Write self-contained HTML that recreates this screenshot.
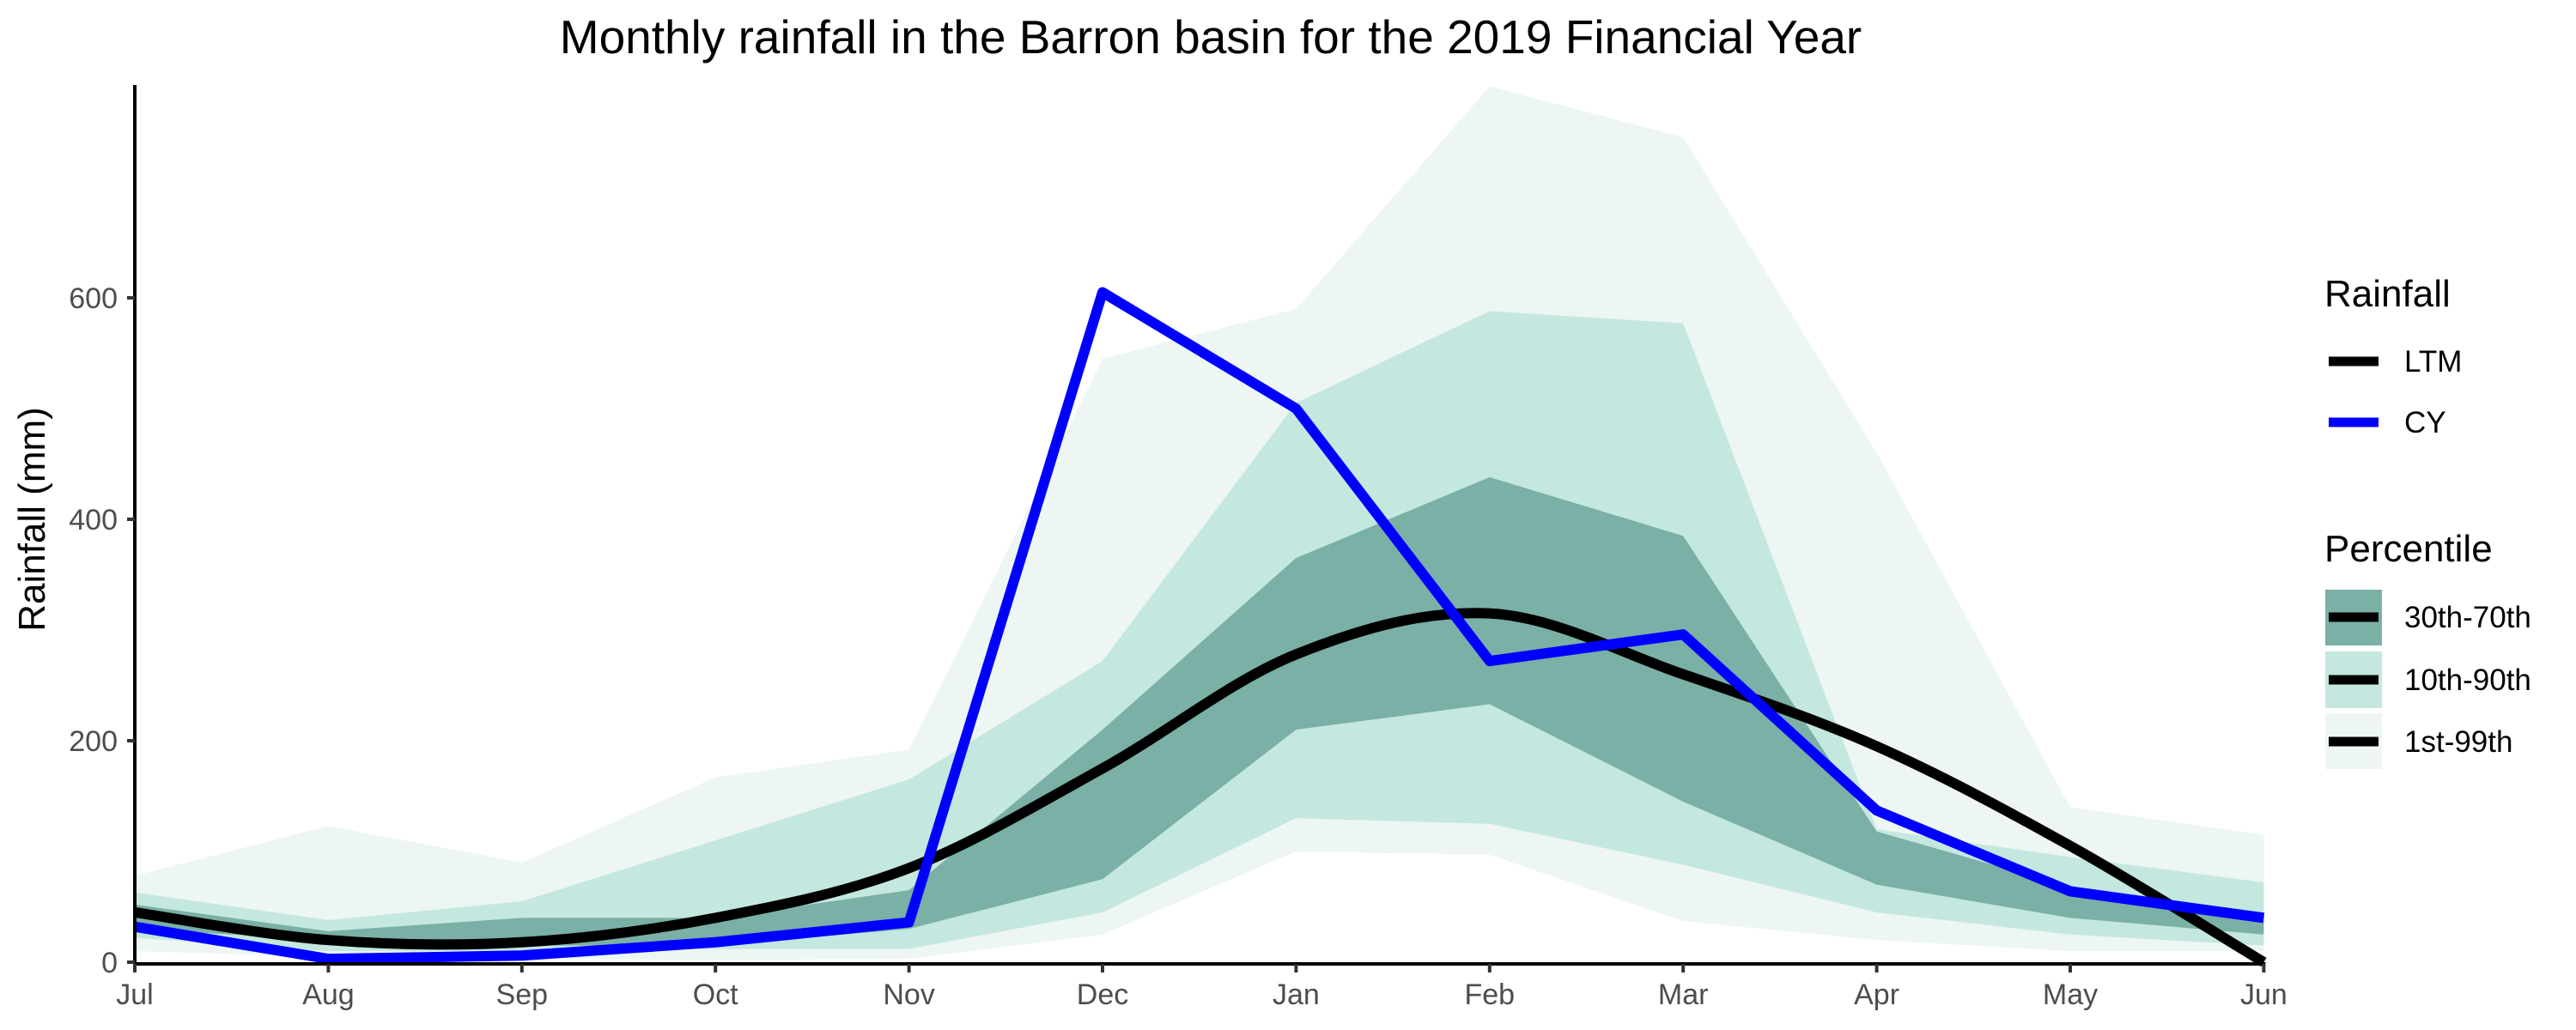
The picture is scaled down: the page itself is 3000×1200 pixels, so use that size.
<!DOCTYPE html>
<html><head><meta charset="utf-8"><style>
html,body{margin:0;padding:0;background:#fff;}
svg{display:block;font-family:"Liberation Sans",Arial,sans-serif;}
</style></head><body>
<svg id="chart" width="3000" height="1200" viewBox="0 0 3000 1200">
<text x="1410" y="62" font-size="55" text-anchor="middle" fill="#000">Monthly rainfall in the Barron basin for the 2019 Financial Year</text>
<text transform="translate(52,605) rotate(-90)" font-size="44" text-anchor="middle" fill="#000">Rainfall (mm)</text>
<g id="bands"></g>
<g id="lines"></g>
<g id="axes"></g>
<g>
<text x="2707" y="357" font-size="44" fill="#000">Rainfall</text>
<line x1="2712" y1="421" x2="2770" y2="421" stroke="#000" stroke-width="11"/>
<text x="2800" y="433" font-size="35" fill="#000">LTM</text>
<line x1="2712" y1="492" x2="2770" y2="492" stroke="#0000ff" stroke-width="11"/>
<text x="2800" y="504" font-size="35" fill="#000">CY</text>
</g>
<g>
<text x="2707" y="654" font-size="44" fill="#000">Percentile</text>
<rect x="2708" y="687" width="66" height="65" fill="#7ab0a6"/>
<line x1="2712" y1="719" x2="2770" y2="719" stroke="#000" stroke-width="11"/>
<text x="2800" y="731" font-size="35" fill="#000">30th-70th</text>
<rect x="2708" y="759" width="66" height="66" fill="#c4e7df"/>
<line x1="2712" y1="792" x2="2770" y2="792" stroke="#000" stroke-width="11"/>
<text x="2800" y="804" font-size="35" fill="#000">10th-90th</text>
<rect x="2708" y="831" width="66" height="65" fill="#edf6f3"/>
<line x1="2712" y1="864" x2="2770" y2="864" stroke="#000" stroke-width="11"/>
<text x="2800" y="876" font-size="35" fill="#000">1st-99th</text>
</g>
</svg>
<script>
const months = ["Jul","Aug","Sep","Oct","Nov","Dec","Jan","Feb","Mar","Apr","May","Jun"];
const p01 = [10,5,3,2,3,25,100,97,37,20,10,10];
const p99 = [78,123,90,167,192,545,590,791,745,460,140,115];
const p10 = [22,10,10,12,12,45,130,125,88,45,25,15];
const p90 = [63,38,55,110,165,272,505,588,577,120,95,72];
const p30 = [30,20,15,15,30,75,210,233,145,70,40,25];
const p70 = [52,28,40,40,65,210,365,438,385,118,68,45];
const cy = [32,3,6,18,36,605,500,272,296,137,64,40];
const ltm = [45,20,18,40,85,175,278,315,260,195,105,0];
const yTicks = [0,200,400,600];

const NS = "http://www.w3.org/2000/svg";
const X0 = 157, DX = 225.4, Y0 = 1121, PER = 258/200;
function xs(i){ return X0 + i*DX; }
function ys(v){ return Y0 - v*PER; }
function mk(tag, attrs, parent){
  const e = document.createElementNS(NS, tag);
  for (const k in attrs) e.setAttribute(k, attrs[k]);
  parent.appendChild(e); return e;
}
const bands = document.getElementById('bands');
const lines = document.getElementById('lines');
const axes = document.getElementById('axes');

function band(lo, hi, color, name){
  let d = "M" + hi.map((v,i)=>xs(i)+","+ys(v)).join(" L");
  for (let i = lo.length-1; i >= 0; i--) d += " L" + xs(i) + "," + ys(lo[i]);
  d += " Z";
  const p = mk('path', {d:d, fill:color}, bands);
  
  
}
band(p01, p99, "#edf6f3", "band-1st-99th");
band(p10, p90, "#c4e7df", "band-10th-90th");
band(p30, p70, "#7ab0a6", "band-30th-70th");

let pts = ltm.map((v,i)=>[xs(i), ys(v)]);
let d = "M" + pts[0][0] + "," + pts[0][1];
for (let i = 0; i < pts.length-1; i++){
  const p0 = pts[Math.max(0,i-1)], p1 = pts[i], p2 = pts[i+1], p3 = pts[Math.min(pts.length-1,i+2)];
  const c1 = [p1[0]+(p2[0]-p0[0])/6, p1[1]+(p2[1]-p0[1])/6];
  const c2 = [p2[0]-(p3[0]-p1[0])/6, p2[1]-(p3[1]-p1[1])/6];
  d += " C" + c1 + " " + c2 + " " + p2;
}
const lt = mk('path', {d:d, fill:"none", stroke:"#000", "stroke-width":12, "stroke-linejoin":"round"}, lines);


const cyl = mk('path', {d:"M"+cy.map((v,i)=>xs(i)+","+ys(v)).join(" L"), fill:"none", stroke:"#0000ff", "stroke-width":12, "stroke-linejoin":"round"}, lines);



const ya = mk('line', {x1:X0, y1:99, x2:X0, y2:Y0+2, stroke:"#000", "stroke-width":4}, axes);


const xa = mk('line', {x1:X0-2, y1:Y0+2, x2:xs(11)+2, y2:Y0+2, stroke:"#000", "stroke-width":4}, axes);


yTicks.forEach(v=>{
  const t = mk('line', {x1:X0-9, y1:ys(v), x2:X0, y2:ys(v), stroke:"#333", "stroke-width":4}, axes);
  
  
  const l = mk('text', {x:X0-20, y:ys(v)+12, "font-size":34, "text-anchor":"end", fill:"#4d4d4d"}, axes);
  l.textContent = v;
  
  
});
months.forEach((m,i)=>{
  const t = mk('line', {x1:xs(i), y1:Y0+2, x2:xs(i), y2:Y0+12, stroke:"#333", "stroke-width":4}, axes);
  
  
  const l = mk('text', {x:xs(i), y:1170, "font-size":34, "text-anchor":"middle", fill:"#4d4d4d"}, axes);
  l.textContent = m;
  
  
});
</script>
</body></html>
